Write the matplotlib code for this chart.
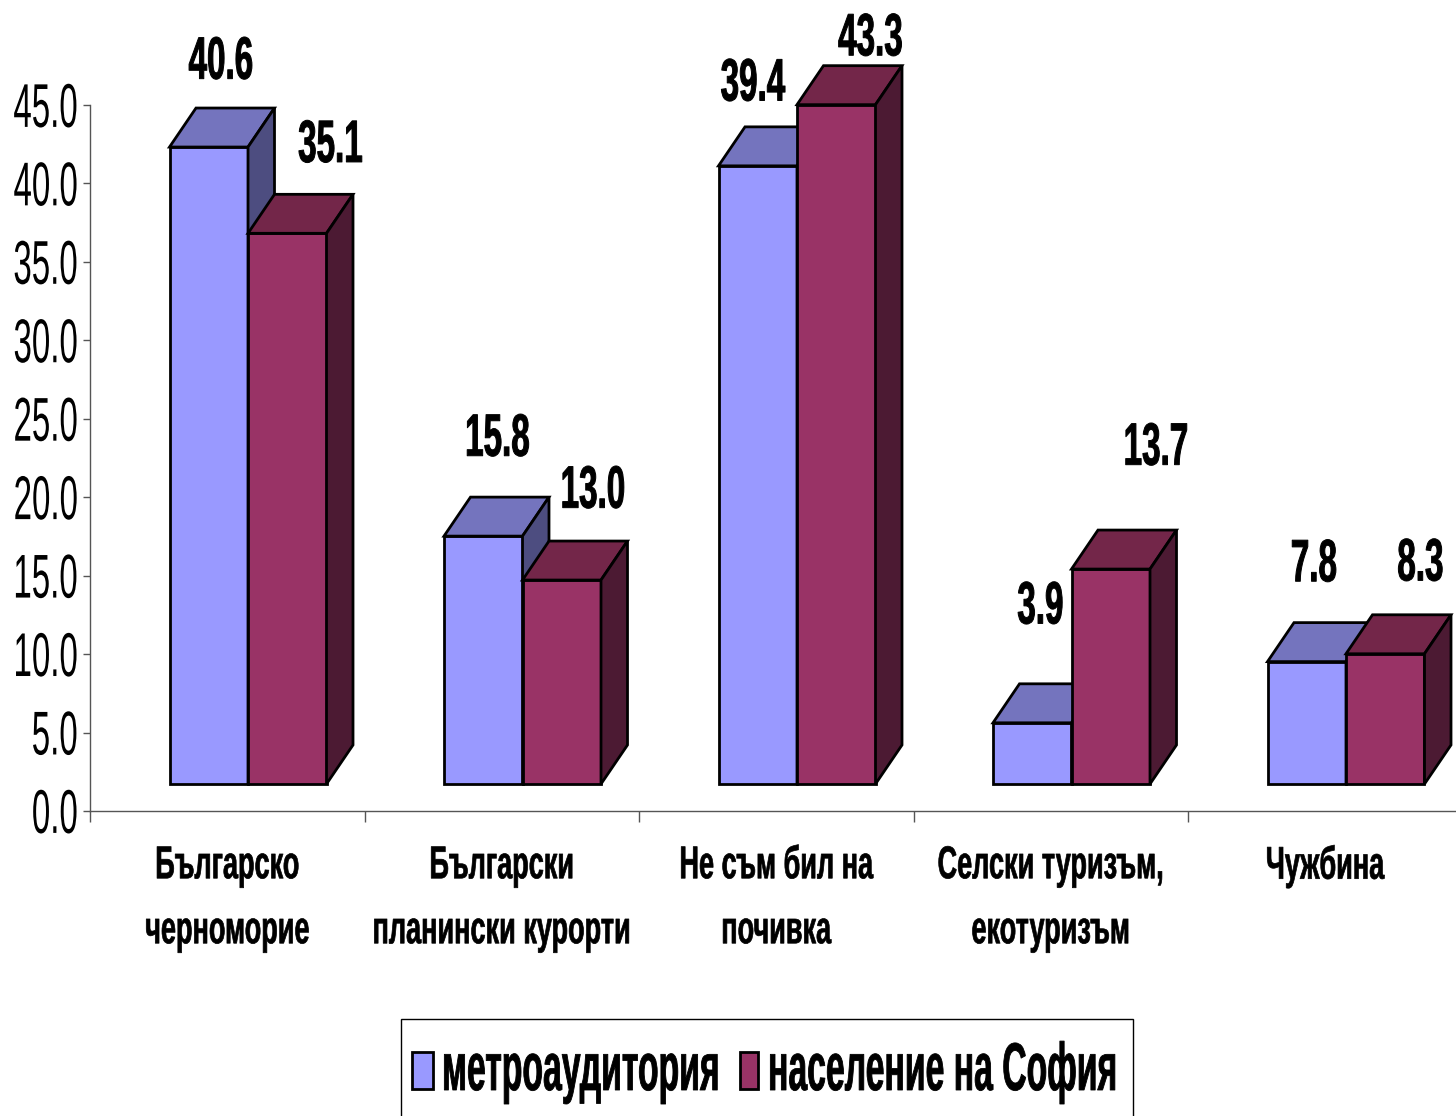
import matplotlib
matplotlib.use("Agg")
import matplotlib.pyplot as plt
import matplotlib.patheffects as pe
from matplotlib.patches import Polygon, Rectangle
from matplotlib.transforms import Affine2D

plt.rcParams['font.family'] = ['Liberation Sans', 'DejaVu Sans']

categories = ["Българско\nчерноморие", "Български\nпланински курорти", "Не съм бил на\nпочивка",
              "Селски туризъм,\nекотуризъм", "Чужбина"]
series_names = ["метроаудитория", "население на София"]
metro = [40.6, 15.8, 39.4, 3.9, 7.8]
sofia = [35.1, 13.0, 43.3, 13.7, 8.3]
yticks = [0, 5, 10, 15, 20, 25, 30, 35, 40, 45]

front_colors = ["#9999FF", "#993366"]
top_colors = ["#7474BE", "#732649"]
side_colors = ["#4D4D80", "#4C1A33"]

# label shift from the front top centre of each bar, pixels
metro_shift = [(12, 86), (14, 98), (-5, 83), (8, 117), (7, 98)]
sofia_shift = [(43, 89), (31, 90), (34, 67), (45, 122), (35, 91)]

W, H = 1456, 1116
CAT = 274.5          # px per category
UNIT = 706 / 45      # px per y unit
floor = 27 / UNIT
dx = 26.5 / CAT
dy = 39 / UNIT
bar_w = 78.5 / CAT
start = 79.5 / CAT


class Tall(pe.AbstractPathEffect):
    # the original font is very narrow, so draw a small size stretched upwards
    def __init__(self, sy, centre=False, stroke=0.0):
        super().__init__()
        self.sy = sy
        self.centre = centre
        self.stroke = stroke

    def draw_path(self, renderer, gc, tpath, affine, rgbFace=None):
        if self.centre:
            ext = affine.transform_path(tpath).get_extents()
            y0 = (ext.y0 + ext.y1) / 2
        else:
            y0 = affine.get_matrix()[1, 2]
        stretch = Affine2D().translate(0, -y0).scale(1, self.sy).translate(0, y0)
        gc0 = renderer.new_gc()
        gc0.copy_properties(gc)
        gc0.set_linewidth(self.stroke)
        gc0.set_foreground("black")
        renderer.draw_path(gc0, tpath, affine + stretch, rgbFace)
        gc0.restore()


fig = plt.figure(figsize=(W / 100, H / 100), dpi=100)
ax = fig.add_axes([90 / W, (H - 811) / H, (W - 90) / W, 706 / H])
ax.set_xlim(0, (W - 90) / CAT)
ax.set_ylim(0, 45)

for s in ["top", "right"]:
    ax.spines[s].set_visible(False)
for s in ["left", "bottom"]:
    ax.spines[s].set_color("#555555")
    ax.spines[s].set_linewidth(1.0)


def draw_bar(x, value, k):
    top = floor + value
    ax.bar(x, value, bar_w, bottom=floor, align="edge", color=front_colors[k],
           edgecolor="black", linewidth=2, clip_on=False, zorder=3)
    ax.add_patch(Polygon([(x, top), (x + dx, top + dy), (x + bar_w + dx, top + dy), (x + bar_w, top)],
                         facecolor=top_colors[k], edgecolor="black", linewidth=2,
                         clip_on=False, zorder=3))
    ax.add_patch(Polygon([(x + bar_w, floor), (x + bar_w + dx, floor + dy),
                          (x + bar_w + dx, top + dy), (x + bar_w, top)],
                         facecolor=side_colors[k], edgecolor="black", linewidth=2,
                         clip_on=False, zorder=3))


for i in range(len(categories)):
    x0 = i + start
    draw_bar(x0, metro[i], 0)
    draw_bar(x0 + bar_w, sofia[i], 1)
    for x, v, shift in [(x0, metro[i], metro_shift[i]), (x0 + bar_w, sofia[i], sofia_shift[i])]:
        ax.annotate("%.1f" % v, (x + bar_w / 2, floor + v), xytext=shift, textcoords="offset pixels",
                    ha="center", va="center", fontsize=23.9, fontweight="bold", annotation_clip=False,
                    zorder=5, path_effects=[Tall(1.8, True, 0.7)])

ax.set_yticks(yticks)
ax.set_yticklabels(["%.1f" % t for t in yticks], fontsize=23.8, path_effects=[Tall(1.87, True)])
ax.tick_params(axis="y", length=5, width=1, color="#555555", pad=4)

ax.set_xticks(range(len(categories)))
ax.set_xticklabels([])
ax.tick_params(axis="x", which="major", length=8, width=1, color="#555555")
ax.set_xticks([i + 0.5 for i in range(len(categories))], minor=True)
ax.set_xticklabels(categories, minor=True, fontsize=19.5, fontweight="bold", linespacing=2.95,
                   path_effects=[Tall(1.695, False, 0.5)])
ax.tick_params(axis="x", which="minor", length=0, pad=34)

# legend, drawn by hand
fig.add_artist(Rectangle((401 / W, -0.01), 732 / W, (H - 1019) / H + 0.01, transform=fig.transFigure,
                         facecolor="white", edgecolor="black", linewidth=1))
for x, w, k in [(412, 21, 0), (740, 18, 1)]:
    fig.add_artist(Rectangle((x / W, (H - 1089) / H), w / W, 37 / H, transform=fig.transFigure,
                             facecolor=front_colors[k], edgecolor="black", linewidth=2))
for x, name in [(442, series_names[0]), (768, series_names[1])]:
    fig.text(x / W, (H - 1090) / H, name, fontsize=24.3, fontweight="bold", ha="left", va="baseline",
             path_effects=[Tall(2.0, False, 0.6)])

fig.savefig("out.png", dpi=100)
